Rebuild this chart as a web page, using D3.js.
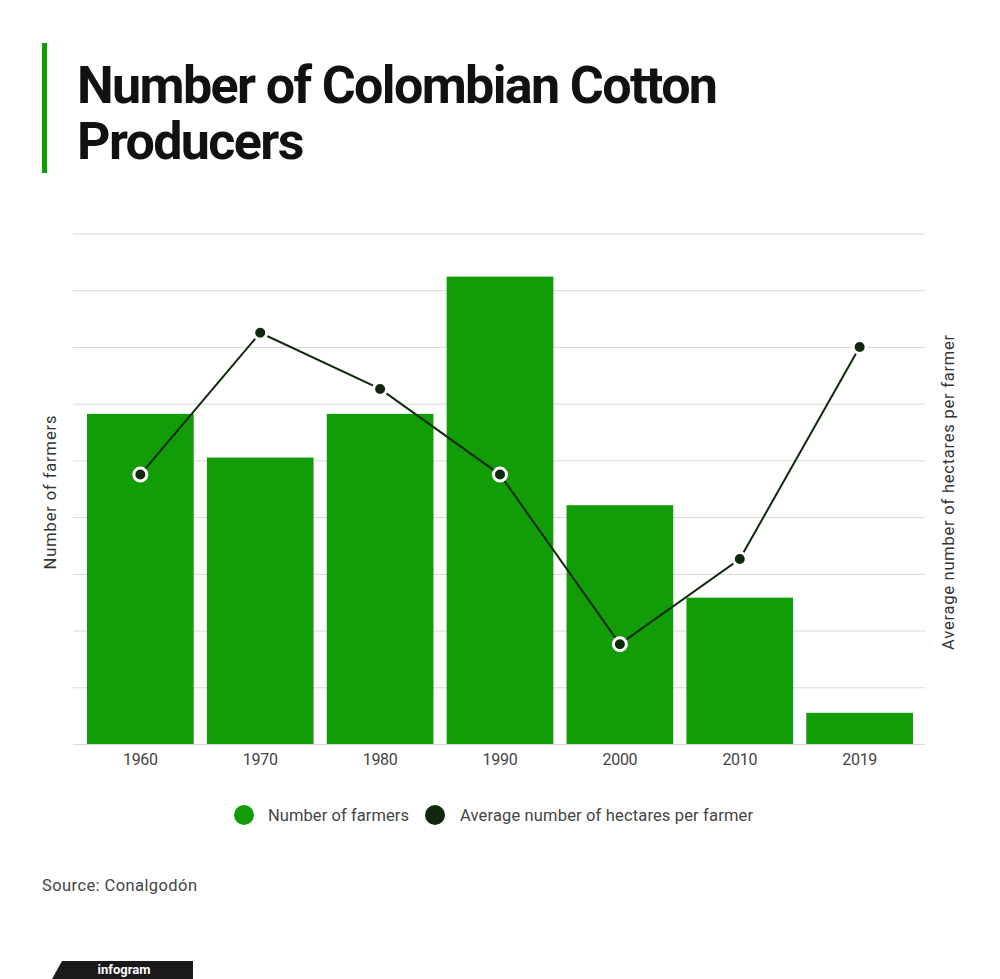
<!DOCTYPE html>
<html>
<head>
<meta charset="utf-8">
<script src="https://cdn.jsdelivr.net/npm/d3@7"></script>
<style>
  html, body { margin: 0; padding: 0; background: #fff; }
  svg { display: block; }
</style>
</head>
<body>
<svg id="chart" width="1000" height="979"></svg>
<script>
// ---- data ----
const years = ["1960", "1970", "1980", "1990", "2000", "2010", "2019"];
const farmers = [29100, 25250, 29100, 41200, 21050, 12900, 2750];
const hectares = [23.75, 36.25, 31.3, 23.75, 8.8, 16.3, 35.0];
const leftTicks = [0, 5000, 10000, 15000, 20000, 25000, 30000, 35000, 40000, 45000];
const titleLines = ["Number of Colombian Cotton", "Producers"];
const seriesNames = ["Number of farmers", "Average number of hectares per farmer"];
const sourceText = "Source: Conalgodón";

const GREEN = "#129c07";
const DARK = "#10290e";
const FONT = "Roboto, 'Liberation Sans', Arial, sans-serif";

const svg = d3.select("#chart");

// fit text width by adjusting letter-spacing
function fitWidth(sel, target) {
  const node = sel.node();
  const n = sel.text().length;
  const w = node.getComputedTextLength();
  const ls = (target - w) / Math.max(1, n - 1);
  sel.attr("letter-spacing", ls.toFixed(3));
}

// ---- title ----
svg.append("rect").attr("x", 42).attr("y", 43).attr("width", 5).attr("height", 130).attr("fill", GREEN);
const t1 = svg.append("text").attr("x", 77).attr("y", 103)
  .attr("font-family", FONT).attr("font-weight", 700).attr("font-size", 52)
  .attr("fill", "#111").text(titleLines[0]);
fitWidth(t1, 641);
const t2 = svg.append("text").attr("x", 77).attr("y", 159)
  .attr("font-family", FONT).attr("font-weight", 700).attr("font-size", 52)
  .attr("fill", "#111").text(titleLines[1]);
t2.attr("letter-spacing", t1.attr("letter-spacing"));

// ---- scales ----
const x = d3.scaleBand().domain(years).range([75, 925]).paddingInner(0.11).paddingOuter(0.1);
const yL = d3.scaleLinear().domain([0, 45000]).range([744, 233.5]);
const yR = d3.scaleLinear().domain([0, 45]).range([744, 233.5]);

// gridlines
const grid = svg.append("g").attr("transform", "translate(73,0)")
  .call(d3.axisLeft(yL).tickValues(leftTicks).tickSize(-852).tickFormat(""));
grid.select(".domain").remove();
grid.selectAll(".tick line").attr("stroke", "#d9d9d9").attr("stroke-width", 1);

// bars
svg.append("g").selectAll("rect").data(years).join("rect")
  .attr("x", d => x(d))
  .attr("width", x.bandwidth())
  .attr("y", (d, i) => yL(farmers[i]))
  .attr("height", (d, i) => yL(0) - yL(farmers[i]))
  .attr("fill", GREEN);

// x axis labels
const xa = svg.append("g").attr("transform", "translate(0,744)")
  .call(d3.axisBottom(x).tickSize(0).tickPadding(10));
xa.select(".domain").remove();
xa.selectAll("text").attr("font-family", FONT).attr("font-size", 16).attr("fill", "#444")
  .attr("letter-spacing", -0.3);

// line
const lineGen = d3.line()
  .x((d, i) => x(years[i]) + x.bandwidth() / 2)
  .y(d => yR(d));
svg.append("path").datum(hectares)
  .attr("d", lineGen).attr("fill", "none").attr("stroke", DARK).attr("stroke-width", 2);
svg.append("g").selectAll("circle").data(hectares).join("circle")
  .attr("cx", (d, i) => x(years[i]) + x.bandwidth() / 2)
  .attr("cy", d => yR(d))
  .attr("r", 6.5)
  .attr("fill", DARK)
  .attr("stroke", "#fff").attr("stroke-width", 3);

// axis titles
const lt = svg.append("text").attr("transform", "translate(56,492) rotate(-90)")
  .attr("text-anchor", "middle").attr("font-family", FONT).attr("font-size", 16.5)
  .attr("fill", "#333").text(seriesNames[0]);
fitWidth(lt, 154);
const rt = svg.append("text").attr("transform", "translate(954,492) rotate(-90)")
  .attr("text-anchor", "middle").attr("font-family", FONT).attr("font-size", 16.5)
  .attr("fill", "#333").text(seriesNames[1]);
fitWidth(rt, 315);

// legend
const lg = svg.append("g");
lg.append("circle").attr("cx", 244).attr("cy", 815).attr("r", 10).attr("fill", GREEN);
const l1 = lg.append("text").attr("x", 268).attr("y", 820.5).attr("font-family", FONT)
  .attr("font-size", 16.5).attr("fill", "#444").text(seriesNames[0]);
fitWidth(l1, 141);
lg.append("circle").attr("cx", 435).attr("cy", 815).attr("r", 10).attr("fill", DARK);
const l2 = lg.append("text").attr("x", 460).attr("y", 820.5).attr("font-family", FONT)
  .attr("font-size", 16.5).attr("fill", "#444").text(seriesNames[1]);
fitWidth(l2, 293);

// source
const src = svg.append("text").attr("x", 42).attr("y", 891).attr("font-family", FONT)
  .attr("font-size", 16.5).attr("fill", "#444").text(sourceText);
fitWidth(src, 155);

// infogram badge
svg.append("path").attr("d", "M62,961 L193,961 L193,979 L52,979 Z").attr("fill", "#1a1a1a");
svg.append("text").attr("x", 124).attr("y", 974).attr("text-anchor", "middle")
  .attr("font-family", FONT).attr("font-weight", 700).attr("font-size", 13)
  .attr("fill", "#fff").text("infogram");
</script>
</body>
</html>
